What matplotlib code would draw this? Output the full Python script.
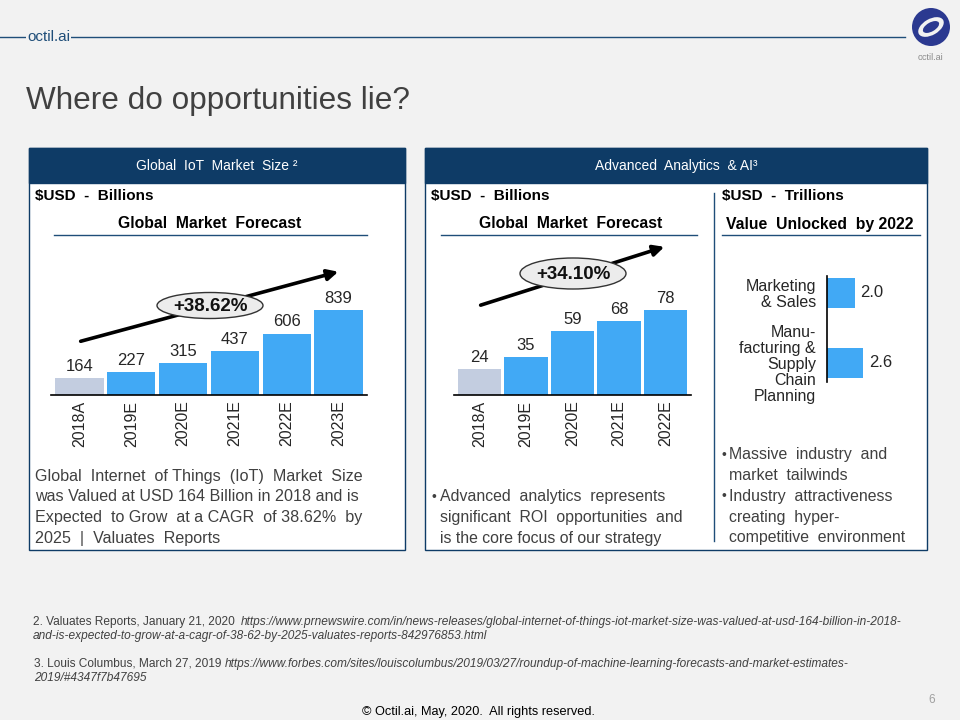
import matplotlib
matplotlib.use("Agg")
import matplotlib.pyplot as plt
from matplotlib.patches import Rectangle, Ellipse, FancyArrowPatch, Circle

plt.rcParams["font.family"] = ["Liberation Sans", "DejaVu Sans"]

# ---- data ----
iot_years = ["2018A", "2019E", "2020E", "2021E", "2022E", "2023E"]
iot_values = [164, 227, 315, 437, 606, 839]
iot_cagr = "+38.62%"

ai_years = ["2018A", "2019E", "2020E", "2021E", "2022E"]
ai_values = [24, 35, 59, 68, 78]
ai_cagr = "+34.10%"

value_areas = ["Marketing\n& Sales", "Manu-\nfacturing &\nSupply\nChain\nPlanning"]
value_trillions = [2.0, 2.6]

iot_note = ["Global  Internet  of Things  (IoT)  Market  Size",
            "was Valued at USD 164 Billion in 2018 and is",
            "Expected  to Grow  at a CAGR  of 38.62%  by",
            "2025  |  Valuates  Reports"]
ai_bullets = [["Advanced  analytics  represents", "significant  ROI  opportunities  and",
               "is the core focus of our strategy"]]
value_bullets = [["Massive  industry  and", "market  tailwinds"],
                 ["Industry  attractiveness", "creating  hyper-", "competitive  environment"]]

NAVY = "#0e3b66"
LINE = "#1f4e79"
BLUE = "#41a9f5"
GREY_BAR = "#c3cde0"
TXT = "#404040"

W, H = 960, 720
fig = plt.figure(figsize=(9.6, 7.2), dpi=100)
fig.patch.set_facecolor("#f2f2f2")
bg = fig.add_axes([0, 0, 1, 1])
bg.set_xlim(0, W); bg.set_ylim(H, 0); bg.axis("off")


def px_axes(x0, y0, x1, y1):
    ax = fig.add_axes([x0 / W, 1 - y1 / H, (x1 - x0) / W, (y1 - y0) / H])
    ax.patch.set_alpha(0)
    return ax


def forecast(ax, years, vals, ymax):
    colors = [GREY_BAR] + [BLUE] * (len(vals) - 1)
    xs = list(range(len(vals)))
    ax.bar(xs, vals, width=0.93, color=colors)
    for xi, v in zip(xs, vals):
        ax.annotate(str(v), (xi, v), xytext=(0, 3), textcoords="offset points",
                    ha="center", va="bottom", fontsize=12, color="#262626")
    ax.set_xlim(-0.55, len(vals) - 0.45); ax.set_ylim(0, ymax)
    ax.set_xticks(xs); ax.set_xticklabels(years, rotation=90, fontsize=11.5, color="#262626")
    ax.tick_params(axis="x", length=0, pad=4)
    ax.set_yticks([])
    for s in ("top", "right", "left"):
        ax.spines[s].set_visible(False)
    ax.spines["bottom"].set_linewidth(1.2)


def cagr(tail, head, centre, size, label):
    bg.add_patch(FancyArrowPatch(tail, head, arrowstyle="-|>", mutation_scale=16,
                                 lw=2.6, color="black", zorder=3))
    bg.add_patch(Ellipse(centre, size[0], size[1], facecolor="#ececec",
                         edgecolor="#333333", lw=1, zorder=4))
    bg.text(centre[0], centre[1] + 1, label, ha="center", va="center",
            fontsize=13.5, fontweight="bold", color="#111111", zorder=5)


# ---- slide chrome ----
bg.plot([0, 905], [37, 37], color=LINE, lw=1)
bg.text(27, 37, "octil.ai", fontsize=11, color=LINE, va="center",
        bbox=dict(facecolor="#f2f2f2", edgecolor="none", pad=1))
bg.add_patch(Circle((931, 27), 19, facecolor="#2b3990", edgecolor="none"))
bg.add_patch(Ellipse((931, 27), 28, 16, angle=-30, facecolor="#f2f2f2", edgecolor="none"))
bg.add_patch(Ellipse((931, 27), 18, 9, angle=-30, facecolor="#2b3990", edgecolor="none"))
bg.text(931, 57, "octil.ai", fontsize=6.5, color="#8a8a8a", ha="center", va="center")
bg.text(26, 101, "Where do opportunities lie?", fontsize=22.7, color=TXT, va="center")

# ---- panels ----
for x0, x1, title in [(29, 405, "Global  IoT  Market  Size ²"),
                      (425, 927, "Advanced  Analytics  & AI³")]:
    bg.add_patch(Rectangle((x0, 148), x1 - x0, 402, facecolor="white", edgecolor=NAVY, lw=1))
    bg.add_patch(Rectangle((x0, 148), x1 - x0, 35, facecolor=NAVY, edgecolor=NAVY, lw=1))
    bg.text((x0 + x1) / 2, 166, title, color="white", fontsize=10, ha="center", va="center")

bg.plot([714, 714], [193, 541], color=LINE, lw=1)

for x, s in [(35, "$USD  -  Billions"), (431, "$USD  -  Billions"), (722, "$USD  -  Trillions")]:
    bg.text(x, 196, s, fontsize=11, fontweight="bold", color="black", va="center")
for xc, x0, x1, s in [(210, 54, 367, "Global  Market  Forecast"),
                      (571, 441, 697, "Global  Market  Forecast"),
                      (820, 722, 920, "Value  Unlocked  by 2022")]:
    bg.text(xc, 224, s, fontsize=11.3, fontweight="bold", color="black", ha="center", va="center")
    bg.plot([x0, x1], [235, 235], color=LINE, lw=1)

# ---- left: IoT market ----
ax1 = px_axes(51, 300, 367, 395)
forecast(ax1, iot_years, iot_values, max(iot_values) * 95 / 85)
cagr((78, 342), (341, 271), (210, 305.5), (106, 26), iot_cagr)
for i, line in enumerate(iot_note):
    bg.text(35, 476 + i * 20.7, line, fontsize=11.6, color=TXT, va="center")

# ---- right: analytics market ----
ax2 = px_axes(454, 300, 691, 395)
forecast(ax2, ai_years, ai_values, max(ai_values) * 95 / 85)
cagr((478, 306), (667, 246), (573, 273.5), (106, 31), ai_cagr)
y = 497
for bl in ai_bullets:
    bg.text(432, y, "•", fontsize=10, color=TXT, va="center")
    for line in bl:
        bg.text(440, y, line, fontsize=11.4, color=TXT, va="center"); y += 20.5

# ---- value unlocked ----
ax3 = px_axes(827, 276, 900, 382)
ax3.barh(range(len(value_trillions)), value_trillions, height=0.43, color=BLUE)
for i, v in enumerate(value_trillions):
    ax3.annotate(f"{v:.1f}", (v, i), xytext=(4, 0), textcoords="offset points",
                 ha="left", va="center", fontsize=12, color="#262626")
ax3.set_ylim(1.273, -0.237); ax3.set_xlim(0, 73 / 14)
ax3.set_yticks(range(len(value_areas)))
ax3.set_yticklabels(value_areas, fontsize=11.5, color="#262626", linespacing=1.08)
ax3.tick_params(axis="y", length=0, pad=8)
ax3.set_xticks([])
for s in ("top", "right", "bottom"):
    ax3.spines[s].set_visible(False)
ax3.spines["left"].set_linewidth(1.2)

y = 455
for bl in value_bullets:
    bg.text(721, y, "•", fontsize=10, color=TXT, va="center")
    for line in bl:
        bg.text(729, y, line, fontsize=11.4, color=TXT, va="center"); y += 20.7

# ---- footnotes ----
FN = 8.6
t = bg.text(33, 622, "2. Valuates Reports, January 21, 2020 ", fontsize=FN, color=TXT, va="center")
bg.annotate("https://www.prnewswire.com/in/news-releases/global-internet-of-things-iot-market-size-was-valued-at-usd-164-billion-in-2018-",
            xy=(1, 0), xycoords=t, xytext=(2, 0), textcoords="offset points",
            fontsize=FN, style="italic", color=TXT, va="bottom")
bg.text(33, 636, "and-is-expected-to-grow-at-a-cagr-of-38-62-by-2025-valuates-reports-842976853.html",
        fontsize=FN, style="italic", color=TXT, va="center")
t = bg.text(34, 664, "3. Louis Columbus, March 27, 2019 ", fontsize=FN, color=TXT, va="center")
bg.annotate("https://www.forbes.com/sites/louiscolumbus/2019/03/27/roundup-of-machine-learning-forecasts-and-market-estimates-",
            xy=(1, 0), xycoords=t, xytext=(0, 0), textcoords="offset points",
            fontsize=FN, style="italic", color=TXT, va="bottom")
bg.text(34, 678, "2019/#4347f7b47695", fontsize=FN, style="italic", color=TXT, va="center")

bg.text(932, 700, "6", fontsize=8.5, color="#a0a0a0", ha="center", va="center")
bg.text(478, 712, "© Octil.ai, May, 2020.  All rights reserved.", fontsize=9.2, color="black",
        ha="center", va="center")

fig.savefig("out.png", dpi=100, facecolor=fig.get_facecolor())
